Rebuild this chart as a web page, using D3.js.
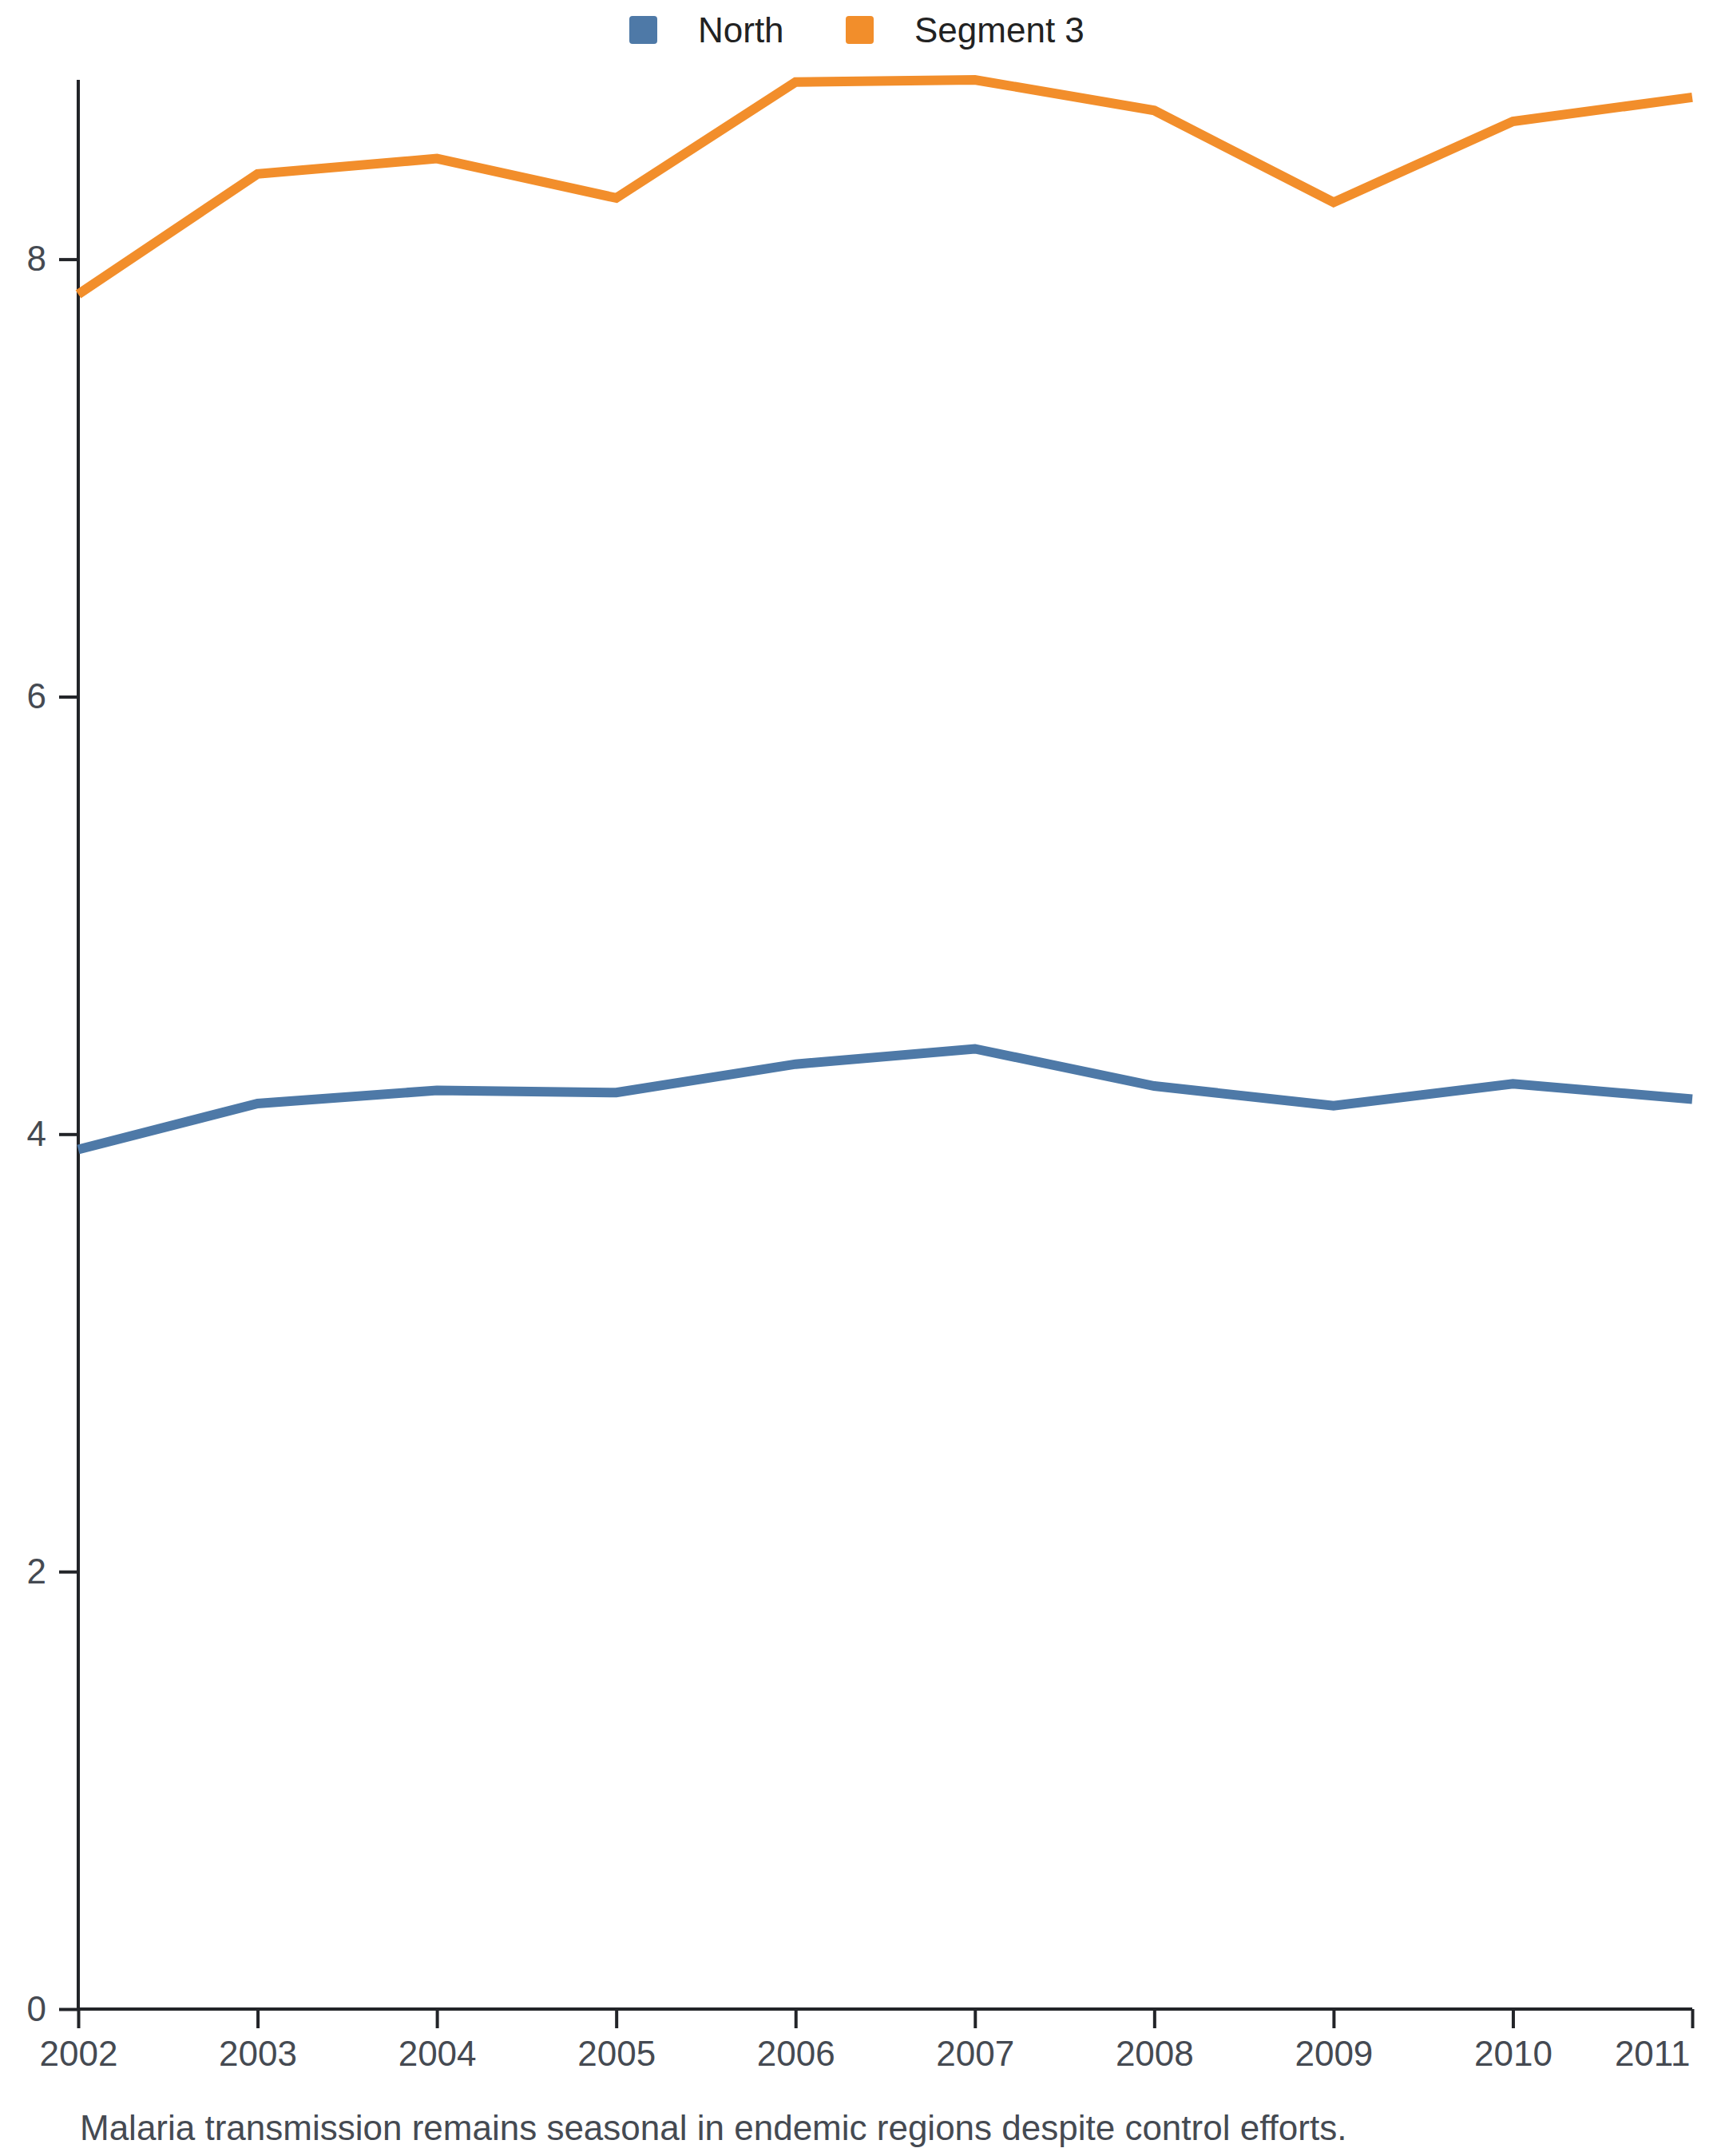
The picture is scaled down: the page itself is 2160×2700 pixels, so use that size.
<!DOCTYPE html>
<html><head><meta charset="utf-8">
<script src="https://cdn.jsdelivr.net/npm/d3@7"></script>
<style>
html,body{margin:0;padding:0;background:#fff;}
svg{display:block;font-family:"Liberation Sans",Arial,sans-serif;}
</style></head>
<body>
<svg id="chart" width="2160" height="2700"></svg>
<script>
const years = [2002,2003,2004,2005,2006,2007,2008,2009,2010,2011];
const seriesNames = ["North","Segment 3"];
const northValues = [3.93,4.14,4.20,4.19,4.32,4.39,4.22,4.13,4.23,4.16];
const segment3Values = [7.84,8.39,8.46,8.28,8.81,8.82,8.68,8.26,8.63,8.74];
const yTicks = [0,2,4,6,8];
const colors = ["#4e79a7","#f28e2b"];
const caption = "Malaria transmission remains seasonal in endemic regions despite control efforts.";

const svg = d3.select("#chart");
const margin = {top:100,right:41,bottom:184,left:98};
const W = 2160, H = 2700;
const x = d3.scaleLinear().domain(d3.extent(years)).range([margin.left, W-margin.right]);
const allVals = northValues.concat(segment3Values);
const y = d3.scaleLinear().domain([0, d3.max(allVals)]).range([H-margin.bottom, margin.top]);

const series = [northValues, segment3Values];
const line = d3.line().x((d,i)=>x(years[i])).y(d=>y(d));

// axes
const gx = svg.append("g").attr("transform",`translate(0,${H-margin.bottom})`)
  .call(d3.axisBottom(x).tickValues(years).tickFormat(d3.format("d")).tickSize(24).tickPadding(16));
const gy = svg.append("g").attr("transform",`translate(${margin.left},0)`)
  .call(d3.axisLeft(y).tickValues(yTicks).tickSize(24).tickPadding(16));
[gx,gy].forEach(g=>{
  g.selectAll(".domain").attr("stroke","#222428").attr("stroke-width",4);
  g.selectAll(".tick line").attr("stroke","#222428").attr("stroke-width",4);
  g.selectAll(".tick text").attr("fill","#454a52").attr("font-size",44).attr("font-family","'Liberation Sans',Arial,sans-serif");
});
gy.select(".domain").attr("d",`M0,${H-margin.bottom}V${margin.top}`);
gx.select(".domain").attr("d",`M${margin.left},0H${W-margin.right}`);
// keep last x label inside the page
gx.selectAll(".tick text").filter(d=>d===years[years.length-1]).attr("text-anchor","end").attr("x",-3);

// lines
series.forEach((vals,k)=>{
  svg.append("path").datum(vals).attr("d",line)
    .attr("fill","none").attr("stroke",colors[k]).attr("stroke-width",12)
    .attr("stroke-linejoin","miter");
});

// legend
const legendX = [788,1059];
seriesNames.forEach((name,k)=>{
  const g = svg.append("g").attr("transform",`translate(${legendX[k]},20)`);
  g.append("rect").attr("width",35).attr("height",35).attr("rx",4).attr("fill",colors[k]);
  g.append("text").attr("x",86).attr("y",33).attr("font-size",44).attr("fill","#222").text(name);
});

// caption
svg.append("text").attr("x",margin.left+2).attr("y",2680).attr("font-size",44).attr("fill","#454a52").text(caption);
</script>
</body></html>
